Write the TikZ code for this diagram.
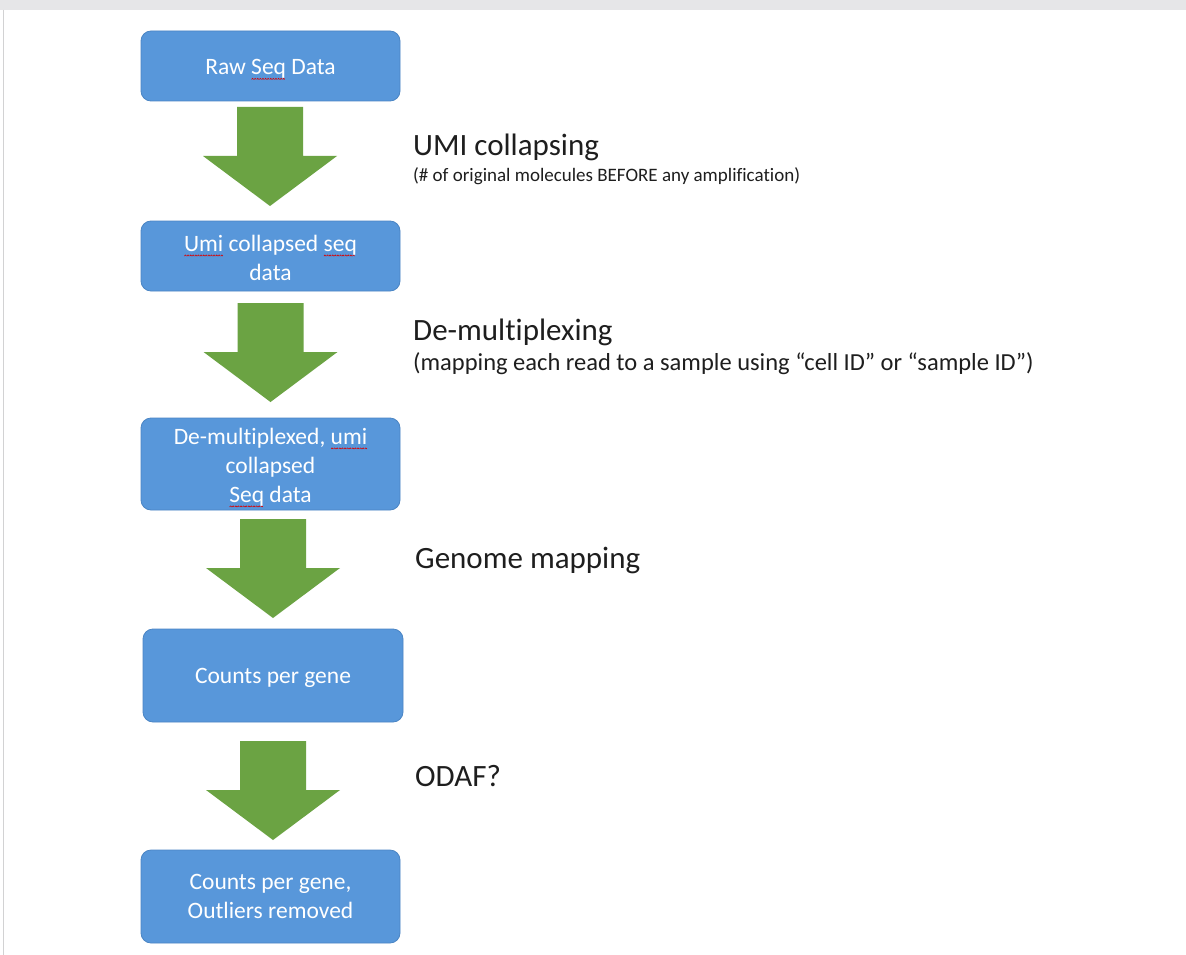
\documentclass[tikz,border=0pt]{standalone}
\usepackage{fontspec}
\setmainfont{Carlito}[Ligatures={NoCommon}]
\usetikzlibrary{calc}
\definecolor{boxblue}{HTML}{5897DA}
\definecolor{boxedge}{HTML}{4A85C4}
\definecolor{arrgreen}{HTML}{6BA343}
\definecolor{topgray}{HTML}{E6E6E8}
\definecolor{txt}{HTML}{1E1E1E}
\newcommand\spw[1]{\setbox0\hbox{#1}\leavevmode\rlap{\hbox to\wd0{\leaders\hbox{\raisebox{-5pt}{\tikz[x=1pt,y=1pt,baseline=0pt]\draw[red!85!black,line width=0.6pt,line join=round] (0,0) -- (1,1.2) -- (2,0);}}\hfil}}\box0\relax}
\tikzset{
  stepbox/.style={draw=boxedge, line width=0.8pt, fill=boxblue, rounded corners=10pt, inner sep=0pt},
  boxtext/.style={text=white, align=center, font=\fontsize{23.5}{29}\selectfont, inner sep=0pt},
  lbl/.style={anchor=base west, text=txt, inner sep=0pt, font=\fontsize{31}{36}\selectfont},
  sublbl/.style={anchor=base west, text=txt, inner sep=0pt},
  bigarrow/.style={fill=arrgreen, draw=none}
}
\newcommand\garrow[3]{% name, center x, top y
  \coordinate (#1) at (#2,#3);
  \fill[bigarrow] ($(#1)+(-33,0)$) -- ($(#1)+(33,0)$) -- ($(#1)+(33,49)$) -- ($(#1)+(67,49)$)
    -- ($(#1)+(0,99)$) -- ($(#1)+(-67,49)$) -- ($(#1)+(-33,49)$) -- cycle;}
\begin{document}
\begin{tikzpicture}[x=1pt,y=-1pt]
\useasboundingbox (0,0) rectangle (1186,955);
\fill[white] (0,0) rectangle (1186,955);
\fill[topgray] (0,0) rectangle (1186,10);
\draw[topgray!80!gray, line width=1pt] (3,10) -- (3,955);

% boxes
\node[stepbox, minimum width=259pt, minimum height=70pt] (b1) at (270.5,66) {};
\node[stepbox, minimum width=259pt, minimum height=70pt] (b2) at (270.5,256) {};
\node[stepbox, minimum width=259pt, minimum height=92pt] (b3) at (270.5,464) {};
\node[stepbox, minimum width=260pt, minimum height=93pt] (b4) at (273,675.5) {};
\node[stepbox, minimum width=259pt, minimum height=93pt] (b5) at (270.5,896.5) {};

\node[boxtext] (t1) at ($(b1.center)+(0,3.5)$) {Raw \spw{Seq} Data};
\node[boxtext] (t2) at ($(b2.center)+(0,1.5)$) {\spw{Umi} collapsed \spw{seq}\\data};
\node[boxtext] (t3) at ($(b3.center)+(0,3.5)$) {De-multiplexed, \spw{umi}\\collapsed\\\spw{Seq} data};
\node[boxtext] (t4) at ($(b4.center)+(0,2)$) {Counts per gene};
\node[boxtext] (t5) at ($(b5.center)+(0,-0.5)$) {Counts per gene,\\Outliers removed};

% block arrows
\garrow{a1}{270}{107}
\garrow{a2}{270.5}{303}
\garrow{a3}{273}{519}
\garrow{a4}{273}{741}

% labels
\node[lbl] (l1) at (413,156) {UMI collapsing};
\node[sublbl, font=\fontsize{19}{22}\selectfont] (s1) at (413,181) {(\# of original molecules BEFORE any amplification)};
\node[lbl] (l2) at (413,340) {De-multiplexing};
\node[sublbl, font=\fontsize{24.5}{28}\selectfont] (s2) at (413,370) {(mapping each read to a sample using “cell ID” or “sample ID”)};
\node[lbl] (l3) at (415,568) {Genome mapping};
\node[lbl] (l4) at (415,786) {ODAF?};
\end{tikzpicture}
\end{document}
